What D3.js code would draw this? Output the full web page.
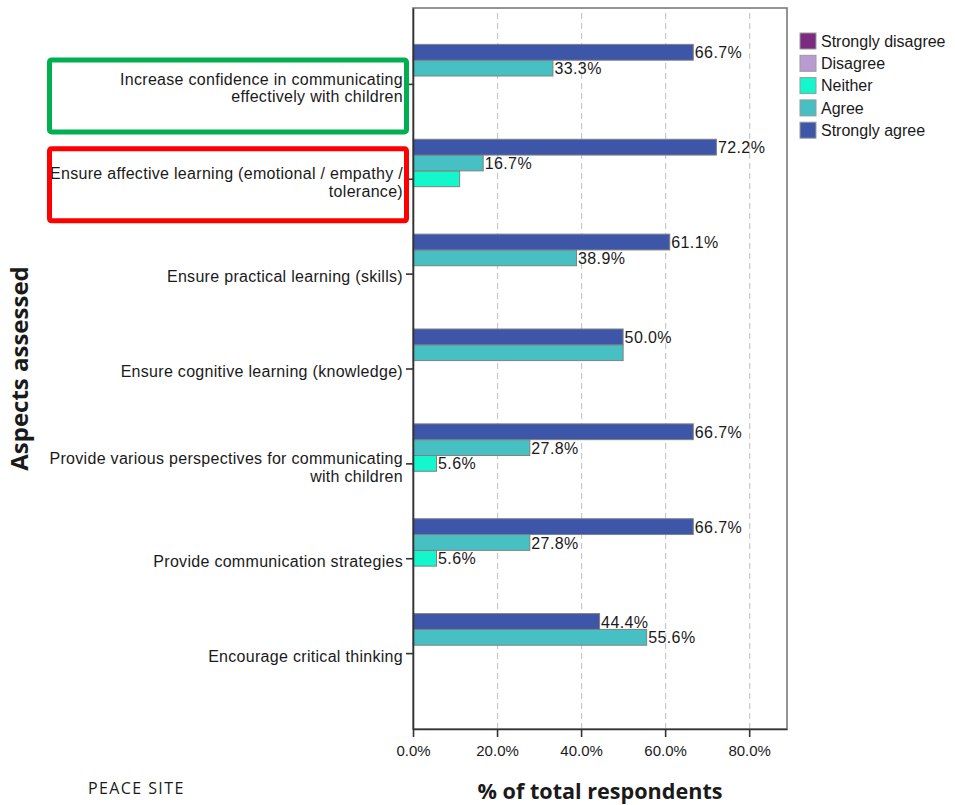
<!DOCTYPE html>
<html>
<head>
<meta charset="utf-8">
<script src="https://cdn.jsdelivr.net/npm/d3@7"></script>
<style>
  html, body { margin: 0; padding: 0; background: #fff; }
  svg { display: block; }
  text { fill: #1a1a1a; }
</style>
</head>
<body>
<svg id="chart" width="955" height="805"></svg>
<script>
// ---------------- Data ----------------
const categories = [
  "Increase confidence in communicating\neffectively with children",
  "Ensure affective learning (emotional / empathy /\ntolerance)",
  "Ensure practical learning (skills)",
  "Ensure cognitive learning (knowledge)",
  "Provide various perspectives for communicating\nwith children",
  "Provide communication strategies",
  "Encourage critical thinking"
];
const seriesNames = ["Strongly disagree", "Disagree", "Neither", "Agree", "Strongly agree"];
const stronglyDisagree = [0, 0, 0, 0, 0, 0, 0];
const disagree         = [0, 0, 0, 0, 0, 0, 0];
const neither          = [0, 11.1, 0, 0, 5.6, 5.6, 0];
const agree            = [33.3, 16.7, 38.9, 50.0, 27.8, 27.8, 55.6];
const stronglyAgree    = [66.7, 72.2, 61.1, 50.0, 66.7, 66.7, 44.4];
const xTicks = [0, 20, 40, 60, 80];
// value labels that are not printed in the original
const unlabeled = [{ series: "Neither", category: 1 }, { series: "Agree", category: 3 }];
const highlightCategories = [0, 1];
const highlightColors = ["#00b050", "#ff0000"];

const seriesValues = {
  "Strongly disagree": stronglyDisagree,
  "Disagree": disagree,
  "Neither": neither,
  "Agree": agree,
  "Strongly agree": stronglyAgree
};
const colors = {
  "Strongly disagree": "#7b2c80",
  "Disagree": "#b99bd2",
  "Neither": "#14f7cc",
  "Agree": "#47c0c3",
  "Strongly agree": "#3d56a8"
};

const SANS = "'Liberation Sans', Arial, sans-serif";
const TITLE = "'Open Sans', sans-serif";

// ---------------- Layout ----------------
const svg = d3.select("#chart");
const plot = { left: 413, top: 8, right: 787, bottom: 729 };

const x = d3.scaleLinear().domain([0, 89]).range([plot.left, plot.right]);
const y = d3.scalePoint().domain(d3.range(categories.length))
  .range([plot.top, plot.bottom]).padding(0.8);
const barH = 15.8;
const inner = d3.scaleBand()
  .domain(["Strongly agree", "Agree", "Neither", "Disagree", "Strongly disagree"])
  .range([-2.5 * barH, 2.5 * barH]);

// gridlines
svg.append("g")
  .attr("transform", `translate(0,${plot.bottom})`)
  .call(d3.axisBottom(x).tickValues(xTicks.filter(d => d > 0))
    .tickSize(-(plot.bottom - plot.top)).tickFormat(""))
  .call(g => g.select(".domain").remove())
  .call(g => g.selectAll("line")
    .attr("stroke", "#c8c8c8").attr("stroke-width", 1.2)
    .attr("stroke-dasharray", "6,4"));

// frame (top/right)
svg.append("rect")
  .attr("x", plot.left).attr("y", plot.top)
  .attr("width", plot.right - plot.left).attr("height", plot.bottom - plot.top)
  .attr("fill", "none").attr("stroke", "#7a7a7a").attr("stroke-width", 1.6);

// bars
const barData = [];
seriesNames.forEach(s => {
  seriesValues[s].forEach((v, i) => {
    if (v > 0) barData.push({ s, i, v });
  });
});
svg.append("g").selectAll("rect").data(barData).join("rect")
  .attr("x", x(0))
  .attr("y", d => y(d.i) + inner(d.s))
  .attr("width", d => x(d.v) - x(0))
  .attr("height", inner.bandwidth())
  .attr("fill", d => colors[d.s])
  .attr("stroke", "#808080").attr("stroke-width", 1);

// value labels
svg.append("g").selectAll("text")
  .data(barData.filter(d => !unlabeled.some(u => u.series === d.s && u.category === d.i)))
  .join("text")
  .attr("x", d => x(d.v) + 1.5)
  .attr("y", d => y(d.i) + inner(d.s) + inner.bandwidth() / 2)
  .attr("dy", "0.38em")
  .style("font-family", SANS)
  .attr("font-size", 16).attr("letter-spacing", 0.4)
  .text(d => d.v.toFixed(1) + "%");

// x axis
svg.append("g")
  .attr("transform", `translate(0,${plot.bottom})`)
  .call(d3.axisBottom(x).tickValues(xTicks).tickSize(8).tickSizeOuter(0)
    .tickFormat(d => d.toFixed(1) + "%"))
  .call(g => g.select(".domain").attr("stroke", "#333").attr("stroke-width", 1.6))
  .call(g => g.selectAll(".tick line").attr("stroke", "#333").attr("stroke-width", 1.6))
  .call(g => g.selectAll(".tick text")
    .style("font-family", SANS)
    .attr("font-size", 15).attr("fill", "#1a1a1a").attr("y", 16));

// y axis
const yAxis = svg.append("g")
  .attr("transform", `translate(${plot.left},0)`)
  .call(d3.axisLeft(y).tickSize(7).tickSizeOuter(0).tickFormat(""));
yAxis.select(".domain").attr("stroke", "#333").attr("stroke-width", 1.6);
yAxis.selectAll(".tick line").attr("stroke", "#333").attr("stroke-width", 1.6);

const catLabels = svg.append("g").selectAll("text").data(categories).join("text")
  .attr("text-anchor", "end")
  .style("font-family", SANS)
  .attr("font-size", 16).attr("letter-spacing", 0.3)
  .attr("transform", (d, i) => `translate(${plot.left - 10},${y(i)})`);
catLabels.each(function (d) {
  const lines = d.split("\n");
  const t = d3.select(this);
  lines.forEach((ln, k) => {
    const offset = lines.length === 1 ? 3 : (k === 0 ? -5 : 13);
    t.append("tspan").attr("x", 0).attr("y", offset).attr("dy", "0.35em").text(ln);
  });
});

// highlight boxes (annotation drawn around the category labels)
const boxTopOffset = [-24, -30];
svg.append("g").selectAll("rect").data(highlightCategories).join("rect")
  .attr("x", 49.5)
  .attr("y", (c, k) => y(c) + boxTopOffset[k])
  .attr("width", 357)
  .attr("height", 72)
  .attr("rx", 2)
  .attr("fill", "none")
  .attr("stroke", (c, k) => highlightColors[k])
  .attr("stroke-width", 5);

// legend
const legend = svg.append("g").attr("transform", "translate(800,33)");
const li = legend.selectAll("g").data(seriesNames).join("g")
  .attr("transform", (d, i) => `translate(0,${i * 22.3})`);
li.append("rect").attr("width", 16).attr("height", 16)
  .attr("fill", d => colors[d]).attr("stroke", "#9a9a9a").attr("stroke-width", 1);
li.append("text").attr("x", 21).attr("y", 8).attr("dy", "0.36em")
  .style("font-family", SANS)
  .attr("font-size", 16).text(d => d);

// axis titles
svg.append("text")
  .attr("x", (plot.left + plot.right) / 2).attr("y", 791).attr("dy", "0.35em")
  .attr("text-anchor", "middle")
  .style("font-family", TITLE).style("font-weight", "bold")
  .attr("font-size", 21.6)
  .text("% of total respondents");

svg.append("text")
  .attr("transform", `translate(20,${(plot.top + plot.bottom) / 2}) rotate(-90)`)
  .attr("dy", "0.35em")
  .attr("text-anchor", "middle")
  .style("font-family", TITLE).style("font-weight", "bold")
  .attr("font-size", 24)
  .text("Aspects assessed");

svg.append("text")
  .attr("x", 88).attr("y", 788).attr("dy", "0.35em")
  .style("font-family", TITLE)
  .attr("font-size", 16).attr("letter-spacing", 1.4)
  .text("PEACE SITE");
</script>
</body>
</html>
